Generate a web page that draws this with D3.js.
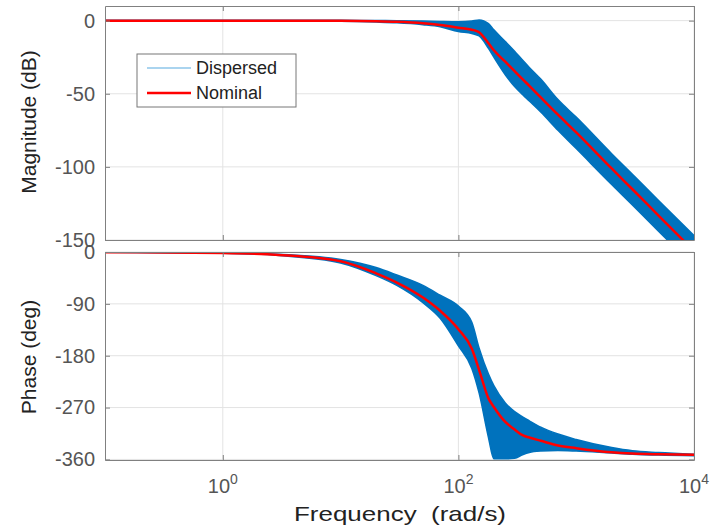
<!DOCTYPE html>
<html>
<head>
<meta charset="utf-8">
<script src="https://cdn.jsdelivr.net/npm/d3@7"></script>
<style>
body { margin: 0; background: #fff; }
text { font-family: "Liberation Sans", Arial, sans-serif; }
</style>
</head>
<body>
<div id="chart"></div>
<script>
// frequency grid, rad/s
const freq = [0.1, 1, 3, 10, 20, 30, 50, 70, 100, 130, 150, 180, 200, 250, 300, 350, 400, 500, 700, 1000, 2000, 3000, 5000, 10000]

// magnitude, dB
const magNominal = [0, 0, 0, -0.1, -0.4, -0.8, -1.8, -3, -4.8, -6.2, -8, -15.5, -20.3, -28.1, -34.5, -40, -44.6, -52.5, -64.3, -76.4, -101.1, -115.3, -133.3, -157.6]
const magUpper = [0.2, 0.2, 0.2, 0.2, 0.1, 0, -0.3, -0.6, -0.8, -0.3, 0.5, -2, -6.3, -14.3, -21, -27, -32, -40, -54, -66, -91, -105, -123, -147]
const magLower = [-0.2, -0.2, -0.3, -0.5, -1, -1.5, -2.8, -4.2, -7.5, -8.8, -10.5, -19, -25, -37, -45, -50.5, -55, -62.5, -75, -87.5, -112, -126, -144, -168]

// phase, deg
const phaseNominal = [-0.3, -1.7, -5, -16, -37, -53, -79, -102, -134, -168, -205, -254, -269, -295, -308, -318, -322, -327.6, -335.7, -340.5, -347.7, -349.9, -351.1, -352]
const phaseUpper = [0, -1.2, -4, -13, -27, -40, -58, -75, -94, -122, -167, -212, -232, -262, -277, -286, -293, -304, -316, -325.5, -339.5, -345, -348, -351]
const phaseLower = [-0.5, -2.2, -6, -19, -41, -58, -88, -115, -163, -202, -245, -322, -359, -359, -358, -352, -348, -345.5, -344.5, -345.5, -349, -351, -352.5, -353.5]

const magTicks = [0, -50, -100, -150]
const phaseTicks = [0, -90, -180, -270, -360]
const freqTicks = [1, 100, 10000]
const freqTickExp = ['0', '2', '4']
const legendNames = ['Dispersed', 'Nominal']

const width = 728, height = 528
const left = 105, right = 694
const blue = '#0072bd', red = '#ff0000', axisGray = '#808080'

const svg = d3.select('#chart')
  .append('svg')
  .attr('width', width)
  .attr('height', height)

const x = d3.scaleLog().domain([0.1, 1e4]).range([left, right])
const yMag = d3.scaleLinear().domain([-150, 10]).range([240, 6])
const yPhase = d3.scaleLinear().domain([-361, 0]).range([460, 252])

let panel = (y, ticks, nominal, upper, lower, id) => {
  const top = y.range()[1], bottom = y.range()[0]
  const g = svg.append('g')

  g.append('clipPath').attr('id', id)
    .append('rect')
    .attr('x', left).attr('y', top)
    .attr('width', right - left).attr('height', bottom - top)

  // grid
  g.selectAll('.gx').data(freqTicks).enter()
    .append('line')
    .attr('x1', d => x(d)).attr('x2', d => x(d))
    .attr('y1', top).attr('y2', bottom)
    .attr('stroke', '#e3e3e3')
  g.selectAll('.gy').data(ticks).enter()
    .append('line')
    .attr('x1', left).attr('x2', right)
    .attr('y1', d => y(d)).attr('y2', d => y(d))
    .attr('stroke', '#e3e3e3')

  const plot = g.append('g').attr('clip-path', 'url(#' + id + ')')

  const band = d3.area()
    .x((d, i) => x(freq[i]))
    .y0((d, i) => y(lower[i]))
    .y1((d, i) => y(upper[i]))
    .curve(d3.curveMonotoneX)
  plot.append('path')
    .datum(freq)
    .attr('d', band)
    .attr('fill', blue)
    .attr('stroke', blue)
    .attr('stroke-width', 1.5)

  const line = d3.line()
    .x((d, i) => x(freq[i]))
    .y(d => y(d))
    .curve(d3.curveMonotoneX)
  plot.append('path')
    .datum(nominal)
    .attr('d', line)
    .attr('fill', 'none')
    .attr('stroke', red)
    .attr('stroke-width', 2.5)

  // axes, ticks pointing inward
  const yl = g.append('g').attr('transform', 'translate(' + left + ',0)')
    .call(d3.axisLeft(y).tickValues(ticks).tickSize(-5).tickPadding(10).tickSizeOuter(0).tickFormat(d => String(d)))
  const yr = g.append('g').attr('transform', 'translate(' + right + ',0)')
    .call(d3.axisRight(y).tickValues(ticks).tickSize(-5).tickFormat('').tickSizeOuter(0))
  const xt = g.append('g').attr('transform', 'translate(0,' + top + ')')
    .call(d3.axisTop(x).tickValues(freqTicks).tickSize(-5).tickFormat('').tickSizeOuter(0))
  const xb = g.append('g').attr('transform', 'translate(0,' + bottom + ')')
    .call(d3.axisBottom(x).tickValues(freqTicks).tickSize(-5).tickFormat('').tickSizeOuter(0))

  ;[yl, yr, xt, xb].forEach(a => {
    a.select('.domain').attr('stroke', axisGray)
    a.selectAll('.tick line').attr('stroke', axisGray)
  })
  yl.selectAll('.tick text')
    .attr('font-size', 20)
    .attr('font-family', '"Liberation Sans", Arial, sans-serif')
    .attr('fill', '#555')
  return g
}

panel(yMag, magTicks, magNominal, magUpper, magLower, 'clipMag')
panel(yPhase, phaseTicks, phaseNominal, phaseUpper, phaseLower, 'clipPhase')

// x tick labels with exponent
const xl = svg.append('g')
xl.selectAll('text').data(freqTicks).enter()
  .append('text')
  .attr('x', d => x(d))
  .attr('y', 493)
  .attr('text-anchor', 'middle')
  .attr('font-size', 20)
  .attr('fill', '#555')
  .each(function (d, i) {
    const t = d3.select(this)
    t.append('tspan').text('10')
    t.append('tspan').attr('font-size', 14).attr('dy', -9).text(freqTickExp[i])
  })

// axis labels
svg.append('text')
  .attr('x', 294).attr('y', 521)
  .attr('font-size', 21).attr('fill', '#222')
  .attr('textLength', 212)
  .attr('lengthAdjust', 'spacingAndGlyphs')
  .attr('xml:space', 'preserve')
  .text('Frequency  (rad/s)')
svg.append('text')
  .attr('transform', 'translate(36,122) rotate(-90)')
  .attr('text-anchor', 'middle')
  .attr('font-size', 21).attr('fill', '#222')
  .text('Magnitude (dB)')
svg.append('text')
  .attr('transform', 'translate(36,357) rotate(-90)')
  .attr('text-anchor', 'middle')
  .attr('font-size', 21).attr('fill', '#222')
  .text('Phase (deg)')

// legend
const lg = svg.append('g')
lg.append('rect')
  .attr('x', 137).attr('y', 54).attr('width', 159).attr('height', 53)
  .attr('fill', '#fff').attr('stroke', '#777')
const legendColors = ['#8ec6ea', red]
const legendWidths = [1.5, 2.5]
lg.selectAll('line').data(legendNames).enter()
  .append('line')
  .attr('x1', 147).attr('x2', 191)
  .attr('y1', (d, i) => 68 + i * 25).attr('y2', (d, i) => 68 + i * 25)
  .attr('stroke', (d, i) => legendColors[i])
  .attr('stroke-width', (d, i) => legendWidths[i])
lg.selectAll('text').data(legendNames).enter()
  .append('text')
  .attr('x', 196)
  .attr('y', (d, i) => 68 + i * 25)
  .attr('dy', '0.35em')
  .attr('font-size', 18)
  .attr('fill', '#222')
  .text(d => d)
</script>
</body>
</html>
